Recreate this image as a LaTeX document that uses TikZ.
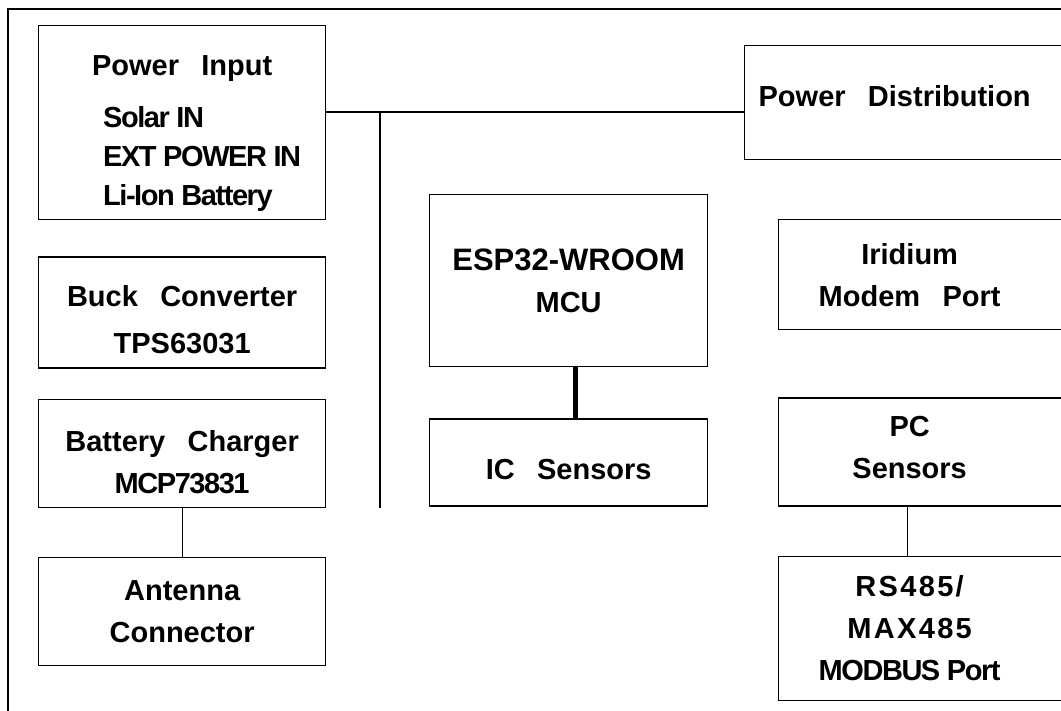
\documentclass[tikz,border=0pt]{standalone}
\usepackage{fontspec}
\setmainfont{Liberation Sans}
\newfontfamily\tightfont{Liberation Sans}[LetterSpace=-5]
\newfontfamily\widefont{Liberation Sans}[LetterSpace=8]
\usetikzlibrary{positioning}
\newcommand{\gap}{\hspace{0.77em}}
\newcommand{\blockfont}{\fontsize{29}{42}\selectfont\bfseries}
\newcommand{\bigline}{\fontsize{31}{42}\selectfont}
\newcommand{\openbox}[2]{\parbox[t]{#1}{\centering #2}\hspace*{40pt}}
\renewcommand{\arraystretch}{0.93}

\begin{document}
\begin{tikzpicture}[x=1pt, y=-1pt,
    block/.style={rectangle, draw=black, line width=1.3pt, minimum width=287pt,
                  align=center, font=\blockfont, inner sep=0pt},
    openblock/.style={block, minimum width=0pt},
    wire/.style={line width=1.3pt},
    thickwire/.style={line width=4.5pt}
]
    \useasboundingbox (0,0) rectangle (1061,711);
    \clip (0,0) rectangle (1061,711);
    \draw[wire] (8,730) -- (8,9) -- (1080,9);

    % left column
    \node[block, minimum height=194pt, anchor=north west, text height=73pt, text depth=63pt] (pin) at (38,25)
        {Power\gap Input\\[10pt]\hspace*{40pt}\begin{tabular}[t]{@{}l@{}}
         \tightfont Solar IN\\ \tightfont EXT POWER IN\\ \tightfont Li-Ion Battery\end{tabular}};
    \node[block, minimum height=111pt, below=36pt of pin, text height=83pt, text depth=0pt] (buck)
        {Buck\gap Converter\\[5pt]TPS63031};
    \node[block, minimum height=108pt, below=30pt of buck, text height=80pt, text depth=0pt] (chg)
        {Battery\gap Charger\\{\tightfont MCP73831}};
    \node[block, minimum height=108pt, below=49pt of chg] (ant) {Antenna\\Connector};

    % middle column
    \node[block, minimum width=278pt, minimum height=172pt, anchor=north west] (esp) at (429,194)
        {{\bigline ESP32-WROOM}\\MCU};
    \node[block, minimum width=278pt, minimum height=87pt, below=51pt of esp, text height=35pt, text depth=0pt] (ic)
        {IC\gap Sensors};

    % right column
    \node[openblock, minimum height=114pt, anchor=north west, text height=26pt, text depth=18pt] (pdist) at (744,45)
        {\openbox{300pt}{Power\gap Distribution}};
    \node[openblock, minimum height=110pt, anchor=north west] (irid) at (778,219)
        {\openbox{262pt}{Iridium\\Modem\gap Port}};
    \node[openblock, minimum height=108pt, below=67pt of irid, text height=21pt, text depth=51pt] (pcs)
        {\openbox{262pt}{PC\\Sensors}};
    \node[openblock, minimum height=144pt, below=49pt of pcs] (rs)
        {\openbox{262pt}{{\widefont RS485/}\\{\widefont MAX485}\\{\tightfont MODBUS Port}}};

    % connections
    \coordinate (tap) at (380,112);
    \draw[wire] (pin.east |- tap) -- (pdist.west |- tap);
    \draw[wire] (tap) -- (tap |- chg.south);
    \draw[wire] (chg.south) -- (ant.north);
    \draw[thickwire] ([xshift=7pt]esp.south) -- ([xshift=7pt]ic.north);
    \draw[wire] ([xshift=-22pt]pcs.south) -- ([xshift=-22pt]rs.north);
\end{tikzpicture}
\end{document}
